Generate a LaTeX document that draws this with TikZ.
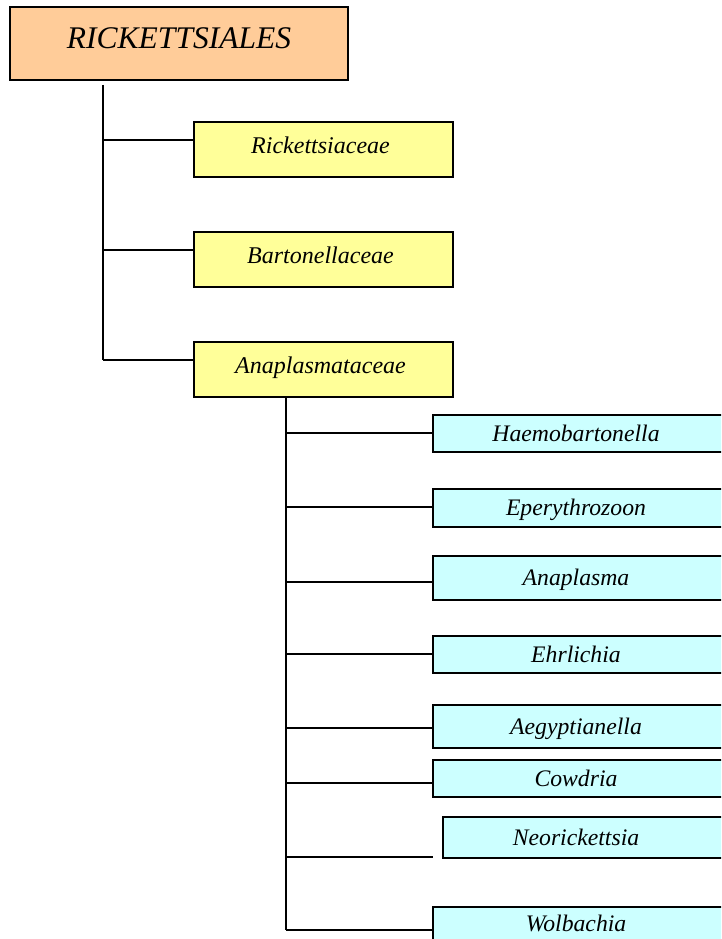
\documentclass[tikz,border=0pt]{standalone}
\usepackage{fontspec}
\setmainfont{Liberation Serif}
\definecolor{peach}{HTML}{FFCC99}
\definecolor{yel}{HTML}{FFFF99}
\definecolor{cyn}{HTML}{CCFFFF}
\begin{document}
\begin{tikzpicture}[x=1pt,y=1pt,
  conn/.style={line width=2.1pt},
  boxbase/.style={draw=black,line width=2pt,rectangle,inner sep=0pt},
  lbl/.style={inner sep=0pt,text depth=0pt},
  topbox/.style={boxbase,fill=peach,minimum width=338,minimum height=73,
     label={[lbl,text height=20.9pt,font=\fontsize{31.5}{36}\selectfont\itshape,yshift=5pt]center:#1}},
  fambox/.style={boxbase,fill=yel,minimum width=259,minimum height=55,
     label={[lbl,text height=15.9pt,font=\fontsize{24}{28}\selectfont\itshape,yshift=4pt,xshift=-3pt]center:#1}},
  genbox/.style={boxbase,fill=cyn,minimum width=320,
     label={[lbl,text height=15.7pt,font=\fontsize{23.7}{28}\selectfont\itshape,xshift=-17pt]center:#1}},
]
\useasboundingbox (0,0) rectangle (721,-939);
\clip (0,0) rectangle (721,-939);
\fill[white] (0,0) rectangle (721,-939);

% order
\node[topbox=RICKETTSIALES] (ord) at (179,-43.5) {};

% families
\node[fambox=Rickettsiaceae] (ric) at (323.5,-149.5) {};
\node[fambox=Bartonellaceae] (bar) at (323.5,-259.5) {};
\node[fambox=Anaplasmataceae] (ana) at (323.5,-369.5) {};

% genera
\node[genbox=Haemobartonella,minimum height=37] (hae) at (593,-433.5) {};
\node[genbox=Eperythrozoon,minimum height=38] (epe) at (593,-508) {};
\node[genbox=Anaplasma,minimum height=44] (anp) at (593,-578) {};
\node[genbox=Ehrlichia,minimum height=37] (ehr) at (593,-654.5) {};
\node[genbox=Aegyptianella,minimum height=43] (aeg) at (593,-726.5) {};
\node[genbox=Cowdria,minimum height=37] (cow) at (593,-778.5) {};
\node[genbox=Neorickettsia,minimum height=41,minimum width=300] (neo) at (593,-837.5) {};
\node[genbox=Wolbachia,minimum height=33] (wol) at (593,-923.5) {};

% first-level tree
\coordinate (t0) at (103,-85);
\coordinate (t1) at (103,-140);
\coordinate (t2) at (103,-250);
\coordinate (t3) at (103,-360);
\draw[conn] (t0) -- (t3);
\draw[conn] (t1) -- (t1 -| ric.west);
\draw[conn] (t2) -- (t2 -| bar.west);
\draw[conn] (t3) -- (t3 -| ana.west);

% second-level tree
\coordinate (s0) at (286,-397);
\coordinate (sh) at (286,-433);
\coordinate (se) at (286,-507);
\coordinate (sa) at (286,-582);
\coordinate (sr) at (286,-654);
\coordinate (sg) at (286,-728);
\coordinate (sc) at (286,-783);
\coordinate (sn) at (286,-857);
\coordinate (nend) at (433,-857);
\coordinate (sw) at (286,-930);
\draw[conn] (s0) -- (sw);
\draw[conn] (sh) -- (sh -| hae.west);
\draw[conn] (se) -- (se -| epe.west);
\draw[conn] (sa) -- (sa -| anp.west);
\draw[conn] (sr) -- (sr -| ehr.west);
\draw[conn] (sg) -- (sg -| aeg.west);
\draw[conn] (sc) -- (sc -| cow.west);
\draw[conn] (sn) -- (nend);
\draw[conn] (sw) -- (sw -| wol.west);
\end{tikzpicture}
\end{document}
